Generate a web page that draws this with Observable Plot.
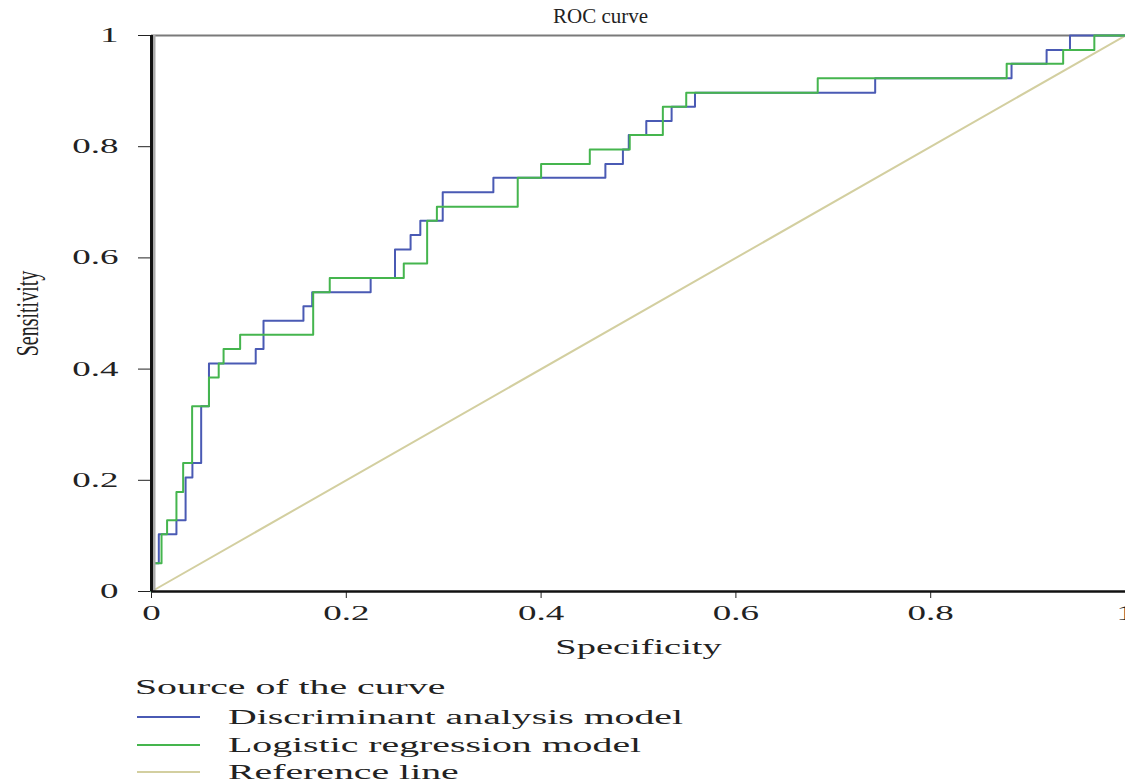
<!DOCTYPE html>
<html>
<head>
<meta charset="utf-8">
<script src="https://cdn.jsdelivr.net/npm/d3@7"></script>
<script src="https://cdn.jsdelivr.net/npm/@observablehq/plot@0.6"></script>
<style>
  body { margin: 0; background: white; }
  #wrap { position: relative; width: 1125px; height: 783px; overflow: hidden; font-family: "Liberation Serif", serif; color: #222; }
  .lg { position: absolute; height: 24px; line-height: 24px; font-size: 20.5px; white-space: nowrap; }
  .lg span { display: inline-block; transform: scaleX(1.94); transform-origin: left center; }
  .sw { position: absolute; height: 0; border-top: 2px solid; }
</style>
</head>
<body>
<div id="wrap"></div>
<script>
// Discriminant analysis model ROC steps (x where the step rises, new sensitivity)
const discFpr = [0,0,0.0075,0.0256,0.035,0.042,0.051,0.059,0.107,0.115,0.156,0.165,0.225,0.250,0.266,0.276,0.299,0.351,0.466,0.484,0.490,0.508,0.534,0.558,0.743,0.883,0.919,0.943,1];
const discTpr = [0,0.051,0.103,0.128,0.205,0.231,0.333,0.410,0.436,0.487,0.513,0.538,0.564,0.615,0.641,0.667,0.718,0.744,0.769,0.795,0.821,0.846,0.872,0.897,0.923,0.949,0.974,1,1];
// Logistic regression model ROC steps
const logFpr = [0,0,0.0103,0.016,0.0256,0.0325,0.0417,0.059,0.069,0.074,0.091,0.166,0.183,0.259,0.283,0.293,0.376,0.400,0.450,0.491,0.525,0.549,0.684,0.878,0.936,0.968,1];
const logTpr = [0,0.051,0.103,0.128,0.179,0.231,0.333,0.385,0.410,0.436,0.462,0.538,0.564,0.590,0.667,0.692,0.744,0.769,0.795,0.821,0.872,0.897,0.923,0.949,0.974,1,1];
// Reference line
const refX = [0, 1];
const refY = [0, 1];
// Ticks
const xTicks = [0, 0.2, 0.4, 0.6, 0.8, 1];
const yTicks = [0, 0.2, 0.4, 0.6, 0.8, 1];
const tickLabels = ["0", "0.2", "0.4", "0.6", "0.8", "1"];
// Legend
const legendTitle = "Source of the curve";
const seriesNames = ["Discriminant analysis model", "Logistic regression model", "Reference line"];
const seriesColors = ["#4a5ab4", "#45b54e", "#d3cfa0"];

const disc = discFpr.map((x, i) => ({x, y: discTpr[i]}));
const logi = logFpr.map((x, i) => ({x, y: logTpr[i]}));
const ref = refX.map((x, i) => ({x, y: refY[i]}));
const fmt = d => tickLabels[xTicks.indexOf(d)];

const chart = Plot.plot({
  width: 1125,
  height: 660,
  marginLeft: 151,
  marginRight: 0,
  marginTop: 35,
  marginBottom: 69,
  style: {fontFamily: "Liberation Serif, serif", fontSize: "20px", color: "#222", background: "white", overflow: "visible"},
  x: {domain: [0, 1]},
  y: {domain: [0, 1]},
  marks: [
    Plot.axisX({ticks: xTicks, tickFormat: fmt, tickSize: 7, tickPadding: 7, label: null, fontSize: 20}),
    Plot.axisY({ticks: yTicks, tickFormat: d => tickLabels[yTicks.indexOf(d)], tickSize: 13, tickPadding: 20, label: null, fontSize: 20}),
    Plot.ruleY([1], {stroke: "#7a7a7a", strokeWidth: 2}),
    Plot.line(ref, {x: "x", y: "y", stroke: seriesColors[2], strokeWidth: 2}),
    Plot.line(disc, {x: "x", y: "y", curve: "step-after", stroke: seriesColors[0], strokeWidth: 2}),
    Plot.line(logi, {x: "x", y: "y", curve: "step-after", stroke: seriesColors[1], strokeWidth: 2}),
    Plot.ruleX([0], {stroke: "#aaa", strokeWidth: 4, dx: 2}),
    Plot.ruleX([0], {stroke: "#111", strokeWidth: 3}),
    Plot.ruleY([0], {stroke: "#111", strokeWidth: 2.5}),
    Plot.text(["ROC curve"], {frameAnchor: "top", dx: -38, dy: -27, fontSize: 21, fill: "#222"}),
    Plot.text(["Specificity"], {frameAnchor: "bottom", dy: 62, fontSize: 20, fill: "#222"}),
    Plot.text(["Sensitivity"], {frameAnchor: "left", textAnchor: "middle", dx: -124, rotate: -90, fontSize: 20, fill: "#222"})
  ]
});

chart.querySelectorAll("text").forEach(t => {
  const s = t.textContent;
  if (s === "ROC curve") return;
  const tr = t.getAttribute("transform") || "";
  if (tr.includes("rotate")) t.setAttribute("transform", tr + " scale(1,1.6)");
  else if (s === "Specificity") t.setAttribute("transform", tr + " scale(1.92,1)");
  else t.setAttribute("transform", tr + " scale(1.85,1)");
});

const wrap = document.getElementById("wrap");
wrap.appendChild(chart);

const head = document.createElement("div");
head.className = "lg";
head.style.left = "135px";
head.style.top = (687 - 12) + "px";
head.innerHTML = "<span></span>";
head.firstChild.textContent = legendTitle;
wrap.appendChild(head);

seriesNames.forEach((name, i) => {
  const cy = 717 + i * 27.5;
  const sw = document.createElement("div");
  sw.className = "sw";
  sw.style.left = "137px";
  sw.style.width = "63px";
  sw.style.top = (cy - 1) + "px";
  sw.style.borderTopColor = seriesColors[i];
  wrap.appendChild(sw);
  const row = document.createElement("div");
  row.className = "lg";
  row.style.left = "228px";
  row.style.top = (cy - 12) + "px";
  row.innerHTML = "<span></span>";
  row.firstChild.textContent = name;
  wrap.appendChild(row);
});
</script>
</body>
</html>
